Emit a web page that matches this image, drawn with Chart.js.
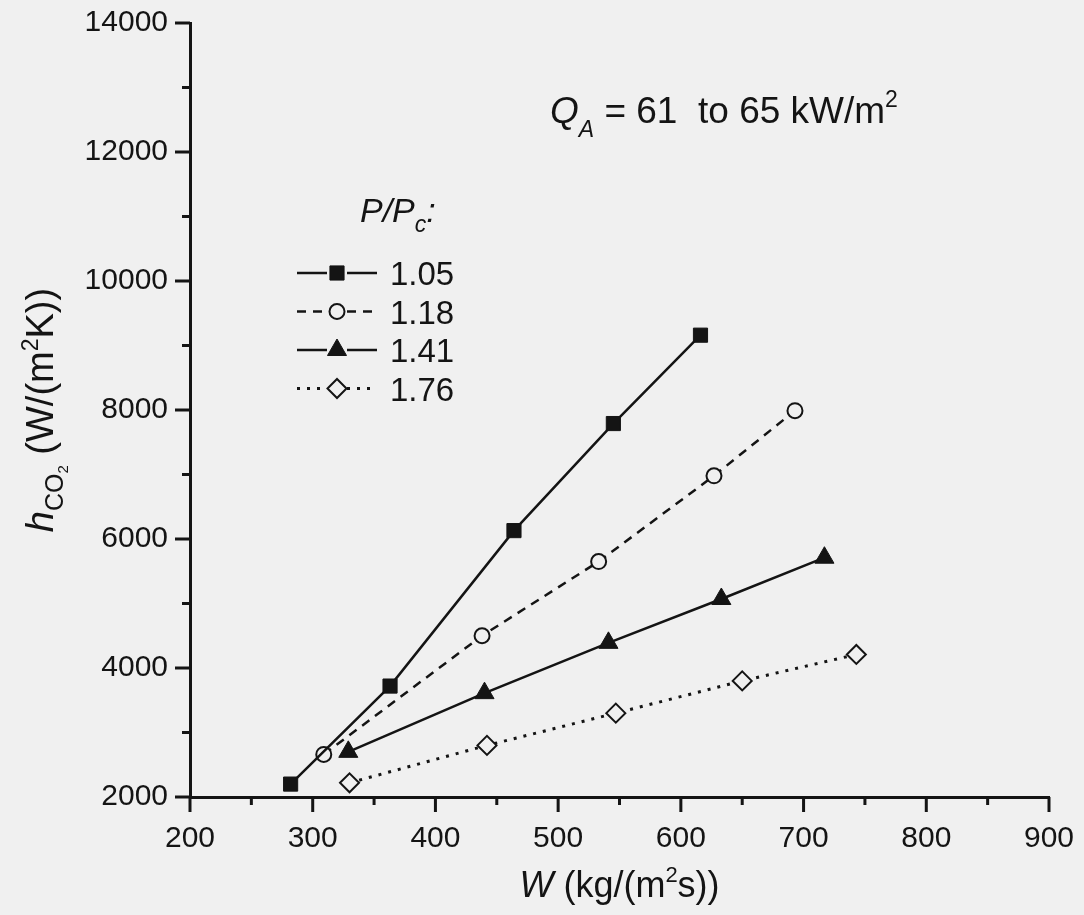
<!DOCTYPE html>
<html>
<head>
<meta charset="utf-8">
<title>hCO2 vs W</title>
<script src="https://cdn.jsdelivr.net/npm/chart.js@4/dist/chart.umd.min.js"></script>
<style>
  html, body { margin: 0; padding: 0; background: #f0f0f0; }
  canvas { display: block; }
</style>
</head>
<body>
<canvas id="myChart" width="1084" height="915"></canvas>
<script>
// P/Pc series: mass flux W (kg/(m2 s)) and heat transfer coefficient h (W/(m2 K))
const seriesLabels = ['1.05', '1.18', '1.41', '1.76'];
const w105 = [282, 363, 464, 545, 616];
const h105 = [2200, 3720, 6130, 7790, 9160];
const w118 = [309, 438, 533, 627, 693];
const h118 = [2660, 4500, 5650, 6980, 7990];
const w141 = [329, 440, 541, 633, 717];
const h141 = [2700, 3610, 4390, 5070, 5710];
const w176 = [330, 442, 547, 650, 743];
const h176 = [2220, 2800, 3300, 3800, 4210];

// axis ticks
const xTickValues = [200, 300, 400, 500, 600, 700, 800, 900];
const xMinorValues = [250, 350, 450, 550, 650, 750, 850];
const yTickValues = [2000, 4000, 6000, 8000, 10000, 12000, 14000];
const yMinorValues = [3000, 5000, 7000, 9000, 11000, 13000];

const bg = '#f0f0f0';
const ink = '#141414';
const family = "'Liberation Sans', Arial, Helvetica, sans-serif";

function pairs(xs, ys) {
    return xs.map((x, i) => ({ x: x, y: ys[i] }));
}

// draw a run of text pieces (italic, sub/superscripts) one after another
function runsWidth(ctx, runs) {
    let w = 0;
    runs.forEach(r => { ctx.font = r.font; w += ctx.measureText(r.text).width; });
    return w;
}
function drawRuns(ctx, x, y, runs) {
    runs.forEach(r => {
        ctx.font = r.font;
        ctx.fillText(r.text, x, y + (r.dy || 0));
        x += ctx.measureText(r.text).width;
    });
}
const f = (size, italic) => (italic ? 'italic ' : '') + size + 'px ' + family;

// tick marks: long for labelled values, short for the in-between ones
const tickMarks = {
    id: 'tickMarks',
    afterDraw(chart) {
        const ctx = chart.ctx;
        const xs = chart.scales.x, ys = chart.scales.y;
        const area = chart.chartArea;
        ctx.save();
        ctx.strokeStyle = ink;
        ctx.lineWidth = 3;
        ctx.beginPath();
        xTickValues.forEach(v => { const p = xs.getPixelForValue(v); ctx.moveTo(p, area.bottom); ctx.lineTo(p, area.bottom + 15); });
        xMinorValues.forEach(v => { const p = xs.getPixelForValue(v); ctx.moveTo(p, area.bottom); ctx.lineTo(p, area.bottom + 8); });
        yTickValues.forEach(v => { const p = ys.getPixelForValue(v); ctx.moveTo(area.left, p); ctx.lineTo(area.left - 15, p); });
        yMinorValues.forEach(v => { const p = ys.getPixelForValue(v); ctx.moveTo(area.left, p); ctx.lineTo(area.left - 8, p); });
        ctx.stroke();
        ctx.restore();
    }
};

// axis titles, heat flux note and the P/Pc key
const labels = {
    id: 'labels',
    afterDraw(chart) {
        const ctx = chart.ctx;
        const area = chart.chartArea;
        ctx.save();
        ctx.fillStyle = ink;
        ctx.textBaseline = 'alphabetic';
        ctx.textAlign = 'left';

        // x title
        const xRuns = [
            { text: 'W', font: f(36, true) },
            { text: ' (kg/(m', font: f(36) },
            { text: '2', font: f(22), dy: -15 },
            { text: 's))', font: f(36) }
        ];
        const cx = (area.left + area.right) / 2;
        drawRuns(ctx, cx - runsWidth(ctx, xRuns) / 2, 897, xRuns);

        // y title, rotated
        const yRuns = [
            { text: 'h', font: f(38, true) },
            { text: 'CO', font: f(25), dy: 10 },
            { text: '2', font: f(15), dy: 15 },
            { text: ' (W/(m', font: f(38) },
            { text: '2', font: f(23), dy: -15 },
            { text: 'K))', font: f(38) }
        ];
        const cy = (area.top + area.bottom) / 2;
        ctx.save();
        ctx.translate(53, cy);
        ctx.rotate(-Math.PI / 2);
        drawRuns(ctx, -runsWidth(ctx, yRuns) / 2, 0, yRuns);
        ctx.restore();

        // heat flux note
        drawRuns(ctx, 550, 123, [
            { text: 'Q', font: f(37, true) },
            { text: 'A', font: f(23, true), dy: 14 },
            { text: ' = 61  to 65 kW/m', font: f(37) },
            { text: '2', font: f(23), dy: -16 }
        ]);

        // key title
        drawRuns(ctx, 360, 222, [
            { text: 'P/P', font: f(34, true) },
            { text: 'c', font: f(23, true), dy: 10 },
            { text: ':', font: f(34, true) }
        ]);

        // key rows
        const rowY = [273, 311.5, 350, 388.5];
        chart.data.datasets.forEach((ds, i) => {
            const y = rowY[i];
            const mx = 337;
            ctx.save();
            ctx.strokeStyle = ds.borderColor;
            ctx.lineWidth = ds.borderWidth;
            ctx.setLineDash(ds.borderDash || []);
            ctx.beginPath();
            ctx.moveTo(297, y); ctx.lineTo(mx - 10, y);
            ctx.moveTo(mx + 10, y); ctx.lineTo(377, y);
            ctx.stroke();
            ctx.setLineDash([]);
            ctx.fillStyle = ds.pointBackgroundColor;
            ctx.strokeStyle = ds.pointBorderColor;
            ctx.lineWidth = ds.pointBorderWidth;
            Chart.helpers.drawPoint(ctx, {
                pointStyle: ds.pointStyle,
                radius: ds.pointRadius,
                rotation: 0,
                borderWidth: ds.pointBorderWidth
            }, mx, y);
            ctx.restore();
            ctx.fillStyle = ink;
            ctx.font = f(33);
            ctx.fillText(ds.label, 390, y + 12);
        });
        ctx.restore();
    }
};

const ctx = document.getElementById('myChart').getContext('2d');

const myChart = new Chart(ctx, {
    type: 'scatter',
    data: {
        datasets: [
            {
                label: seriesLabels[0],
                data: pairs(w105, h105),
                showLine: true,
                borderColor: ink,
                borderWidth: 2.5,
                pointStyle: 'rect',
                pointRadius: 10,
                pointBackgroundColor: ink,
                pointBorderColor: ink,
                pointBorderWidth: 1
            },
            {
                label: seriesLabels[1],
                data: pairs(w118, h118),
                showLine: true,
                borderColor: ink,
                borderWidth: 2.5,
                borderDash: [9, 7],
                pointStyle: 'circle',
                pointRadius: 7.5,
                pointBackgroundColor: bg,
                pointBorderColor: ink,
                pointBorderWidth: 2
            },
            {
                label: seriesLabels[2],
                data: pairs(w141, h141),
                showLine: true,
                borderColor: ink,
                borderWidth: 2.5,
                pointStyle: 'triangle',
                pointRadius: 11,
                pointBackgroundColor: ink,
                pointBorderColor: ink,
                pointBorderWidth: 1
            },
            {
                label: seriesLabels[3],
                data: pairs(w176, h176),
                showLine: true,
                borderColor: ink,
                borderWidth: 3,
                borderDash: [3, 7],
                pointStyle: 'rectRot',
                pointRadius: 9.5,
                pointBackgroundColor: bg,
                pointBorderColor: ink,
                pointBorderWidth: 2
            }
        ]
    },
    options: {
        responsive: false,
        animation: false,
        devicePixelRatio: 1,
        layout: { padding: { left: 0, top: 23, right: 35, bottom: 0 } },
        plugins: {
            legend: { display: false },
            tooltip: { enabled: false }
        },
        scales: {
            x: {
                type: 'linear',
                min: 200,
                max: 900,
                afterBuildTicks: s => { s.ticks = xTickValues.map(v => ({ value: v })); },
                afterFit: s => { s.height = 118; s.paddingLeft = 0; s.paddingRight = 0; },
                grid: { display: false, drawTicks: false },
                border: { display: true, color: ink, width: 3 },
                ticks: {
                    color: ink,
                    padding: 24,
                    maxRotation: 0,
                    autoSkip: false,
                    callback: v => String(v),
                    font: { family: family, size: 30 }
                }
            },
            y: {
                type: 'linear',
                min: 2000,
                max: 14000,
                afterBuildTicks: s => { s.ticks = yTickValues.map(v => ({ value: v })); },
                afterFit: s => { s.width = 190; s.paddingTop = 0; s.paddingBottom = 0; },
                grid: { display: false, drawTicks: false },
                border: { display: true, color: ink, width: 3 },
                ticks: {
                    color: ink,
                    padding: 22,
                    autoSkip: false,
                    callback: v => String(v),
                    font: { family: family, size: 30 }
                }
            }
        }
    },
    plugins: [tickMarks, labels]
});
</script>
</body>
</html>
